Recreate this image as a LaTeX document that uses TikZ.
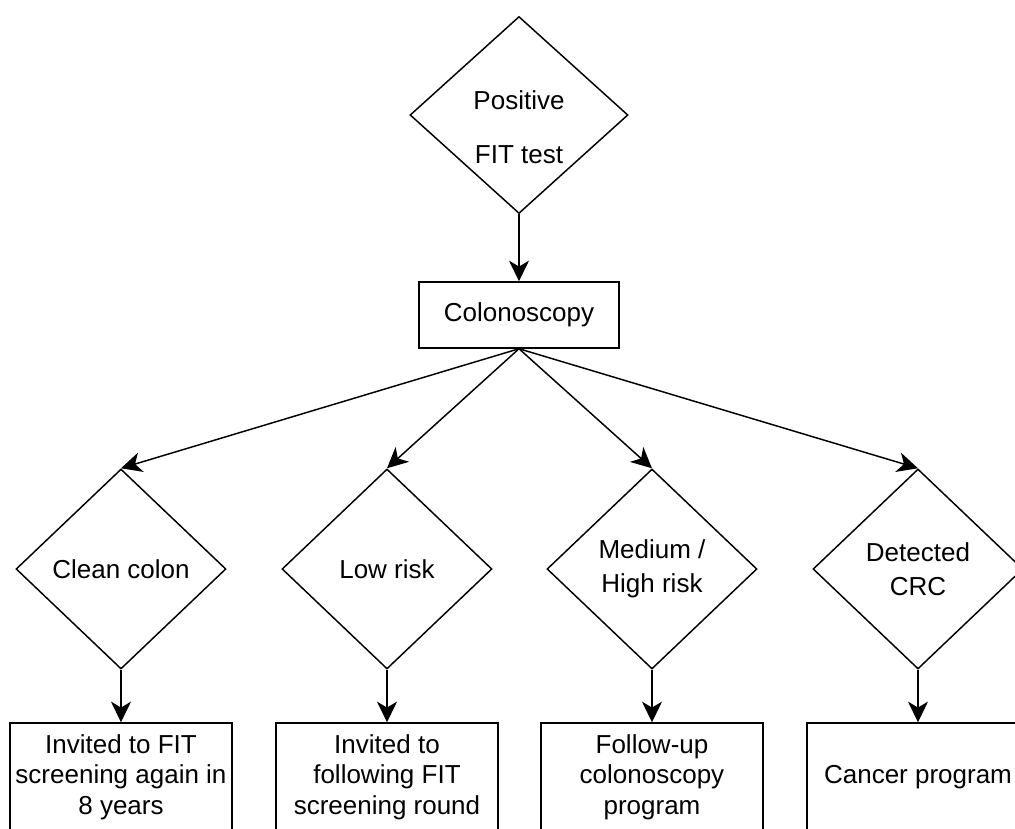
\documentclass[tikz,border=0pt]{standalone}
\usepackage{fontspec}
\setmainfont{Liberation Sans}
\usetikzlibrary{shapes.geometric, arrows.meta}

\begin{document}
\begin{tikzpicture}[
  node distance=190.5pt,
  font=\fontsize{19.5}{23}\selectfont,
  line width=1.1pt,
  decision/.style={draw, diamond, aspect=1, inner sep=0pt, minimum width=157.5pt, minimum height=150pt, align=center},
  process/.style={draw, rectangle, inner sep=2pt, minimum width=150pt, minimum height=49.5pt, align=center},
  outcome/.style={draw, rectangle, inner sep=2pt, minimum width=166.5pt, minimum height=81pt, align=center},
  flow/.style={-{Stealth[length=15.5pt, width=15pt, inset=4.5pt]}}
  ]

  \useasboundingbox (-389.25pt,86.25pt) rectangle (372pt,-535.5pt);
  \clip (-389.25pt,86.25pt) rectangle (372pt,-535.5pt);

  % Nodes
  \node (fit) [decision, minimum width=163.5pt, minimum height=147.75pt] {\rule{0pt}{32pt}Positive\\[17.5pt]FIT test};
  \node (colono) [process, node distance=150pt, below of=fit] {Colonoscopy};
  \node (clean) [decision, below of=colono, xshift=-298.5pt] {Clean colon};
  \node (low) [decision, below of=colono, xshift=-99pt] {Low risk};
  \node (medium) [decision, below of=colono, xshift=99.75pt] {Medium /\\[2.5pt]High risk};
  \node (crc) [decision, below of=colono, xshift=299.25pt] {Detected\\[2.5pt]CRC};
  \node (invite) [outcome, node distance=156pt, below of=clean] {Invited to FIT\\screening again in\\8 years};
  \node (nextround) [outcome, node distance=156pt, below of=low] {Invited to\\following FIT\\screening round};
  \node (followup) [outcome, node distance=156pt, below of=medium] {Follow-up\\colonoscopy\\program};
  \node (cancer) [outcome, node distance=156pt, below of=crc] {Cancer program};

  % Connections
  \draw[flow] (fit) -- (colono);
  \draw[flow] (colono.south) -- (clean.north);
  \draw[flow] (colono.south) -- (low.north);
  \draw[flow] (colono.south) -- (medium.north);
  \draw[flow] (colono.south) -- (crc.north);
  \draw[flow] (clean) -- (invite);
  \draw[flow] (low) -- (nextround);
  \draw[flow] (medium) -- (followup);
  \draw[flow] (crc) -- (cancer);

\end{tikzpicture}
\end{document}
